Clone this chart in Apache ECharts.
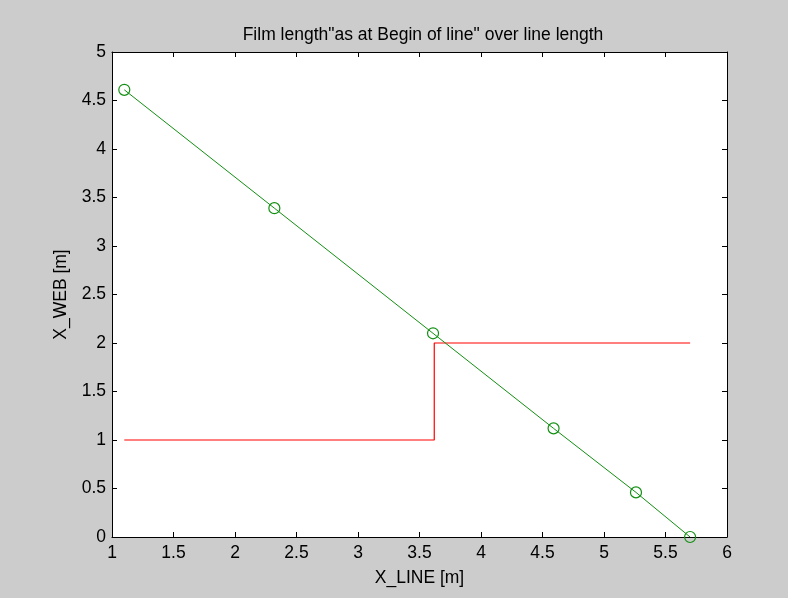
<!DOCTYPE html>
<html>
<head>
<meta charset="utf-8">
<script src="https://cdn.jsdelivr.net/npm/echarts@6/dist/echarts.min.js"></script>
<style>
  html, body { margin: 0; padding: 0; background: #cccccc; }
  #chart { width: 788px; height: 598px; }
</style>
</head>
<body>
<div id="chart"></div>
<script>
// film length as at begin of line (green, with circle markers)
var webX = [1.1, 2.32, 3.61, 4.59, 5.26, 5.7];
var webY = [4.61, 3.39, 2.1, 1.12, 0.46, 0];
// step line (red)
var stepX = [1.1, 3.62, 3.62, 5.7];
var stepY = [1, 1, 2, 2];

var chart = echarts.init(document.getElementById("chart"));

function pairs(xs, ys) {
  return xs.map(function (x, i) { return [x, ys[i]]; });
}

var font = "'Liberation Sans', Arial, sans-serif";
var axisBase = {
  type: "value",
  axisLine: { show: true, onZero: false, lineStyle: { color: "#000", width: 1 } },
  axisTick: { show: true, inside: true, length: 5, lineStyle: { color: "#000" } },
  splitLine: { show: false },
};

chart.setOption({
  backgroundColor: "#cccccc",
  animation: false,
  title: {
    text: 'Film length"as at Begin of line" over line length',
    left: 418,
    top: 21,
    textAlign: "center",
    textStyle: { fontFamily: font, fontSize: 17.5, fontWeight: "normal", color: "#000" },
  },
  grid: { left: 112, right: 61, top: 52, bottom: 61, show: true, backgroundColor: "#fff", borderWidth: 0 },
  xAxis: [
    Object.assign({}, axisBase, {
      min: 1, max: 6, interval: 0.5,
      position: "bottom",
      name: "X_LINE [m]",
      nameLocation: "middle",
      nameGap: 32,
      nameTextStyle: { fontFamily: font, fontSize: 17.5, color: "#000" },
      axisLabel: { fontFamily: font, fontSize: 17.5, color: "#000", margin: 7 },
    }),
    Object.assign({}, axisBase, {
      min: 1, max: 6, interval: 0.5,
      position: "top",
      axisLabel: { show: false },
    }),
  ],
  yAxis: [
    Object.assign({}, axisBase, {
      min: 0, max: 5, interval: 0.5,
      position: "left",
      name: "X_WEB [m]",
      nameLocation: "middle",
      nameGap: 42,
      nameTextStyle: { fontFamily: font, fontSize: 17.5, color: "#000" },
      axisLabel: { fontFamily: font, fontSize: 17.5, color: "#000", margin: 6 },
    }),
    Object.assign({}, axisBase, {
      min: 0, max: 5, interval: 0.5,
      position: "right",
      axisLabel: { show: false },
    }),
  ],
  series: [
    {
      type: "line",
      data: pairs(stepX, stepY),
      symbol: "none",
      lineStyle: { color: "#ff0000", width: 1.2 },
    },
    {
      type: "line",
      data: pairs(webX, webY),
      symbol: "circle",
      symbolSize: 11,
      itemStyle: { color: "rgba(0,0,0,0)", borderColor: "#128f12", borderWidth: 1.2 },
      lineStyle: { color: "#128f12", width: 1 },
    },
  ],
});
</script>
</body>
</html>
